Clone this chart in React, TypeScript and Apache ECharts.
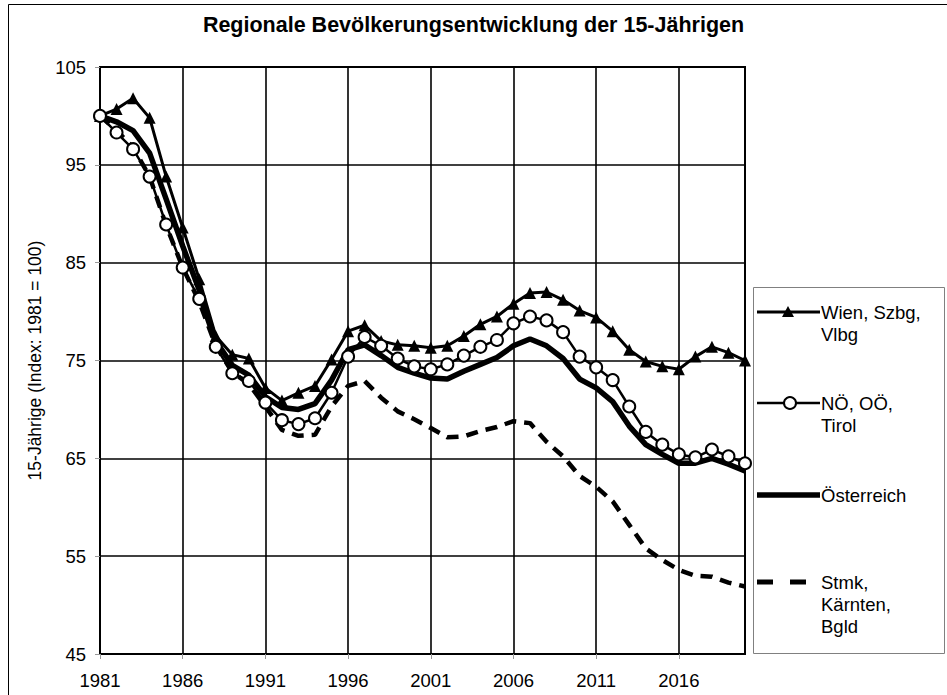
import React, { useEffect, useRef } from "react";
import * as echarts from "echarts";

const years = [
  "1981", "1982", "1983", "1984", "1985", "1986", "1987", "1988", "1989", "1990",
  "1991", "1992", "1993", "1994", "1995", "1996", "1997", "1998", "1999", "2000",
  "2001", "2002", "2003", "2004", "2005", "2006", "2007", "2008", "2009", "2010",
  "2011", "2012", "2013", "2014", "2015", "2016", "2017", "2018", "2019", "2020",
];

const wien = [
  100, 100.7, 101.8, 99.8, 93.8, 88.6, 83.3, 77.5, 75.6, 75.2,
  72.2, 70.9, 71.7, 72.4, 75.1, 78.0, 78.6, 77.0, 76.6, 76.5,
  76.3, 76.5, 77.5, 78.7, 79.5, 80.8, 81.9, 82.0, 81.2, 80.1,
  79.4, 78.0, 76.1, 74.9, 74.4, 74.1, 75.4, 76.4, 75.8, 75.0,
];

const noe = [
  100, 98.3, 96.6, 93.8, 88.9, 84.5, 81.3, 76.4, 73.7, 72.9,
  70.7, 68.9, 68.5, 69.1, 71.7, 75.4, 77.4, 76.5, 75.2, 74.4,
  74.1, 74.6, 75.5, 76.4, 77.1, 78.8, 79.5, 79.1, 77.9, 75.4,
  74.3, 73.0, 70.3, 67.7, 66.4, 65.4, 65.1, 65.9, 65.2, 64.5,
];

const oesterreich = [
  100, 99.4, 98.5, 96.2, 91.5, 86.7, 82.2, 77.0, 74.5, 73.5,
  71.3, 70.2, 70.0, 70.6, 73.0, 76.1, 76.6, 75.5, 74.3, 73.7,
  73.2, 73.1, 73.9, 74.6, 75.3, 76.5, 77.2, 76.5, 75.2, 73.1,
  72.2, 70.8, 68.3, 66.4, 65.4, 64.5, 64.5, 65.0, 64.4, 63.7,
];

const stmk = [
  100, 98.5, 96.8, 93.8, 88.8, 84.5, 81.0, 76.5, 73.8, 72.6,
  70.3, 67.9, 67.3, 67.4, 70.3, 72.4, 72.9, 71.2, 69.8, 69.0,
  68.1, 67.15, 67.25, 67.8, 68.2, 68.8, 68.6, 66.7, 65.2, 63.2,
  62.1, 60.6, 58.2, 55.8, 54.6, 53.6, 53.0, 52.9, 52.3, 51.9,
];

const seriesNames = ["Wien, Szbg, Vlbg", "NÖ, OÖ, Tirol", "Österreich", "Stmk, Kärnten, Bgld"];
const legendLabels = ["Wien, Szbg,\nVlbg", "NÖ, OÖ,\nTirol", "Österreich", "Stmk,\nKärnten,\nBgld"];

const titleText = "Regionale Bevölkerungsentwicklung der 15-Jährigen";
const yAxisName = "15-Jährige (Index: 1981 = 100)";

const FONT = "'Liberation Sans', Arial, sans-serif";

export default function App() {
  const ref = useRef<HTMLDivElement>(null);

  useEffect(() => {
    if (!ref.current) return;
    const chart = echarts.init(ref.current, undefined, { renderer: "svg" });

    const lx1 = 757;
    const lx2 = 820;
    const tx = 821;
    const ly = [312, 403, 495, 582];
    const lh = 22;

    const legendText = (i: number) => ({
      type: "text",
      x: tx,
      y: ly[i] - lh / 2,
      silent: true,
      style: {
        text: legendLabels[i],
        fill: "#000",
        font: `18.5px ${FONT}`,
        lineHeight: lh,
        verticalAlign: "top",
        align: "left",
      },
    });

    chart.setOption({
      animation: false,
      backgroundColor: "#fff",
      title: {
        text: titleText,
        left: "center",
        top: 9,
        textStyle: { fontSize: 21.5, fontWeight: "bold", color: "#000", fontFamily: FONT },
      },
      grid: {
        left: 100,
        right: 202,
        top: 67,
        bottom: 41,
        show: true,
        borderColor: "#000",
        borderWidth: 2,
        backgroundColor: "transparent",
      },
      xAxis: {
        type: "category",
        data: years,
        boundaryGap: false,
        axisLine: { show: true, lineStyle: { color: "#000", width: 2 } },
        axisTick: { show: true, interval: 4, length: 5, lineStyle: { color: "#999", width: 1 } },
        axisLabel: { interval: 4, color: "#000", fontSize: 18.5, fontFamily: FONT, margin: 17 },
        splitLine: { show: true, interval: 4, lineStyle: { color: "#000", width: 1.6 } },
      },
      yAxis: {
        type: "value",
        min: 45,
        max: 105,
        interval: 10,
        name: yAxisName,
        nameLocation: "middle",
        nameGap: 47,
        nameTextStyle: { fontSize: 17.5, color: "#000", fontFamily: FONT },
        axisLine: { show: true, lineStyle: { color: "#000", width: 2 } },
        axisTick: { show: true, length: 5, lineStyle: { color: "#999", width: 1 } },
        axisLabel: { color: "#000", fontSize: 18.5, fontFamily: FONT, margin: 14 },
        splitLine: { show: true, lineStyle: { color: "#000", width: 1.6 } },
      },
      series: [
        {
          name: seriesNames[3],
          type: "line",
          data: stmk,
          symbol: "none",
          z: 1,
          lineStyle: { color: "#000", width: 4.5, type: [12, 8] },
          silent: true,
        },
        {
          name: seriesNames[2],
          type: "line",
          data: oesterreich,
          symbol: "none",
          z: 2,
          lineStyle: { color: "#000", width: 5.5 },
          silent: true,
        },
        {
          name: seriesNames[0],
          type: "line",
          data: wien,
          symbol: "triangle",
          symbolSize: 12,
          showAllSymbol: true,
          z: 3,
          lineStyle: { color: "#000", width: 3 },
          itemStyle: { color: "#000" },
          silent: true,
        },
        {
          name: seriesNames[1],
          type: "line",
          data: noe,
          symbol: "circle",
          symbolSize: 12,
          showAllSymbol: true,
          z: 4,
          lineStyle: { color: "#000", width: 2.5 },
          itemStyle: { color: "#fff", borderColor: "#000", borderWidth: 2 },
          silent: true,
        },
      ],
      graphic: [
        {
          type: "rect",
          silent: true,
          shape: { x: 8.5, y: 4.5, width: 939, height: 700 },
          style: { fill: "none", stroke: "#000", lineWidth: 1 },
        },
        {
          type: "rect",
          silent: true,
          shape: { x: 753.5, y: 287.5, width: 191, height: 366 },
          style: { fill: "#fff", stroke: "#808080", lineWidth: 1 },
        },
        {
          type: "line",
          silent: true,
          shape: { x1: lx1, y1: ly[0], x2: lx2, y2: ly[0] },
          style: { stroke: "#000", lineWidth: 3 },
        },
        {
          type: "polygon",
          silent: true,
          shape: { points: [[788, ly[0] - 6], [782, ly[0] + 5], [794, ly[0] + 5]] },
          style: { fill: "#000" },
        },
        legendText(0),
        {
          type: "line",
          silent: true,
          shape: { x1: lx1, y1: ly[1], x2: lx2, y2: ly[1] },
          style: { stroke: "#000", lineWidth: 2.5 },
        },
        {
          type: "circle",
          silent: true,
          shape: { cx: 790, cy: ly[1], r: 6 },
          style: { fill: "#fff", stroke: "#000", lineWidth: 2 },
        },
        legendText(1),
        {
          type: "line",
          silent: true,
          shape: { x1: lx1, y1: ly[2], x2: lx2, y2: ly[2] },
          style: { stroke: "#000", lineWidth: 5.5 },
        },
        legendText(2),
        {
          type: "line",
          silent: true,
          shape: { x1: lx1, y1: ly[3], x2: 808, y2: ly[3] },
          style: { stroke: "#000", lineWidth: 5, lineDash: [16, 17] },
        },
        legendText(3),
      ],
    });

    return () => chart.dispose();
  }, []);

  return (
    <div
      ref={ref}
      style={{ position: "absolute", left: 0, top: 0, width: 947, height: 695 }}
    />
  );
}
